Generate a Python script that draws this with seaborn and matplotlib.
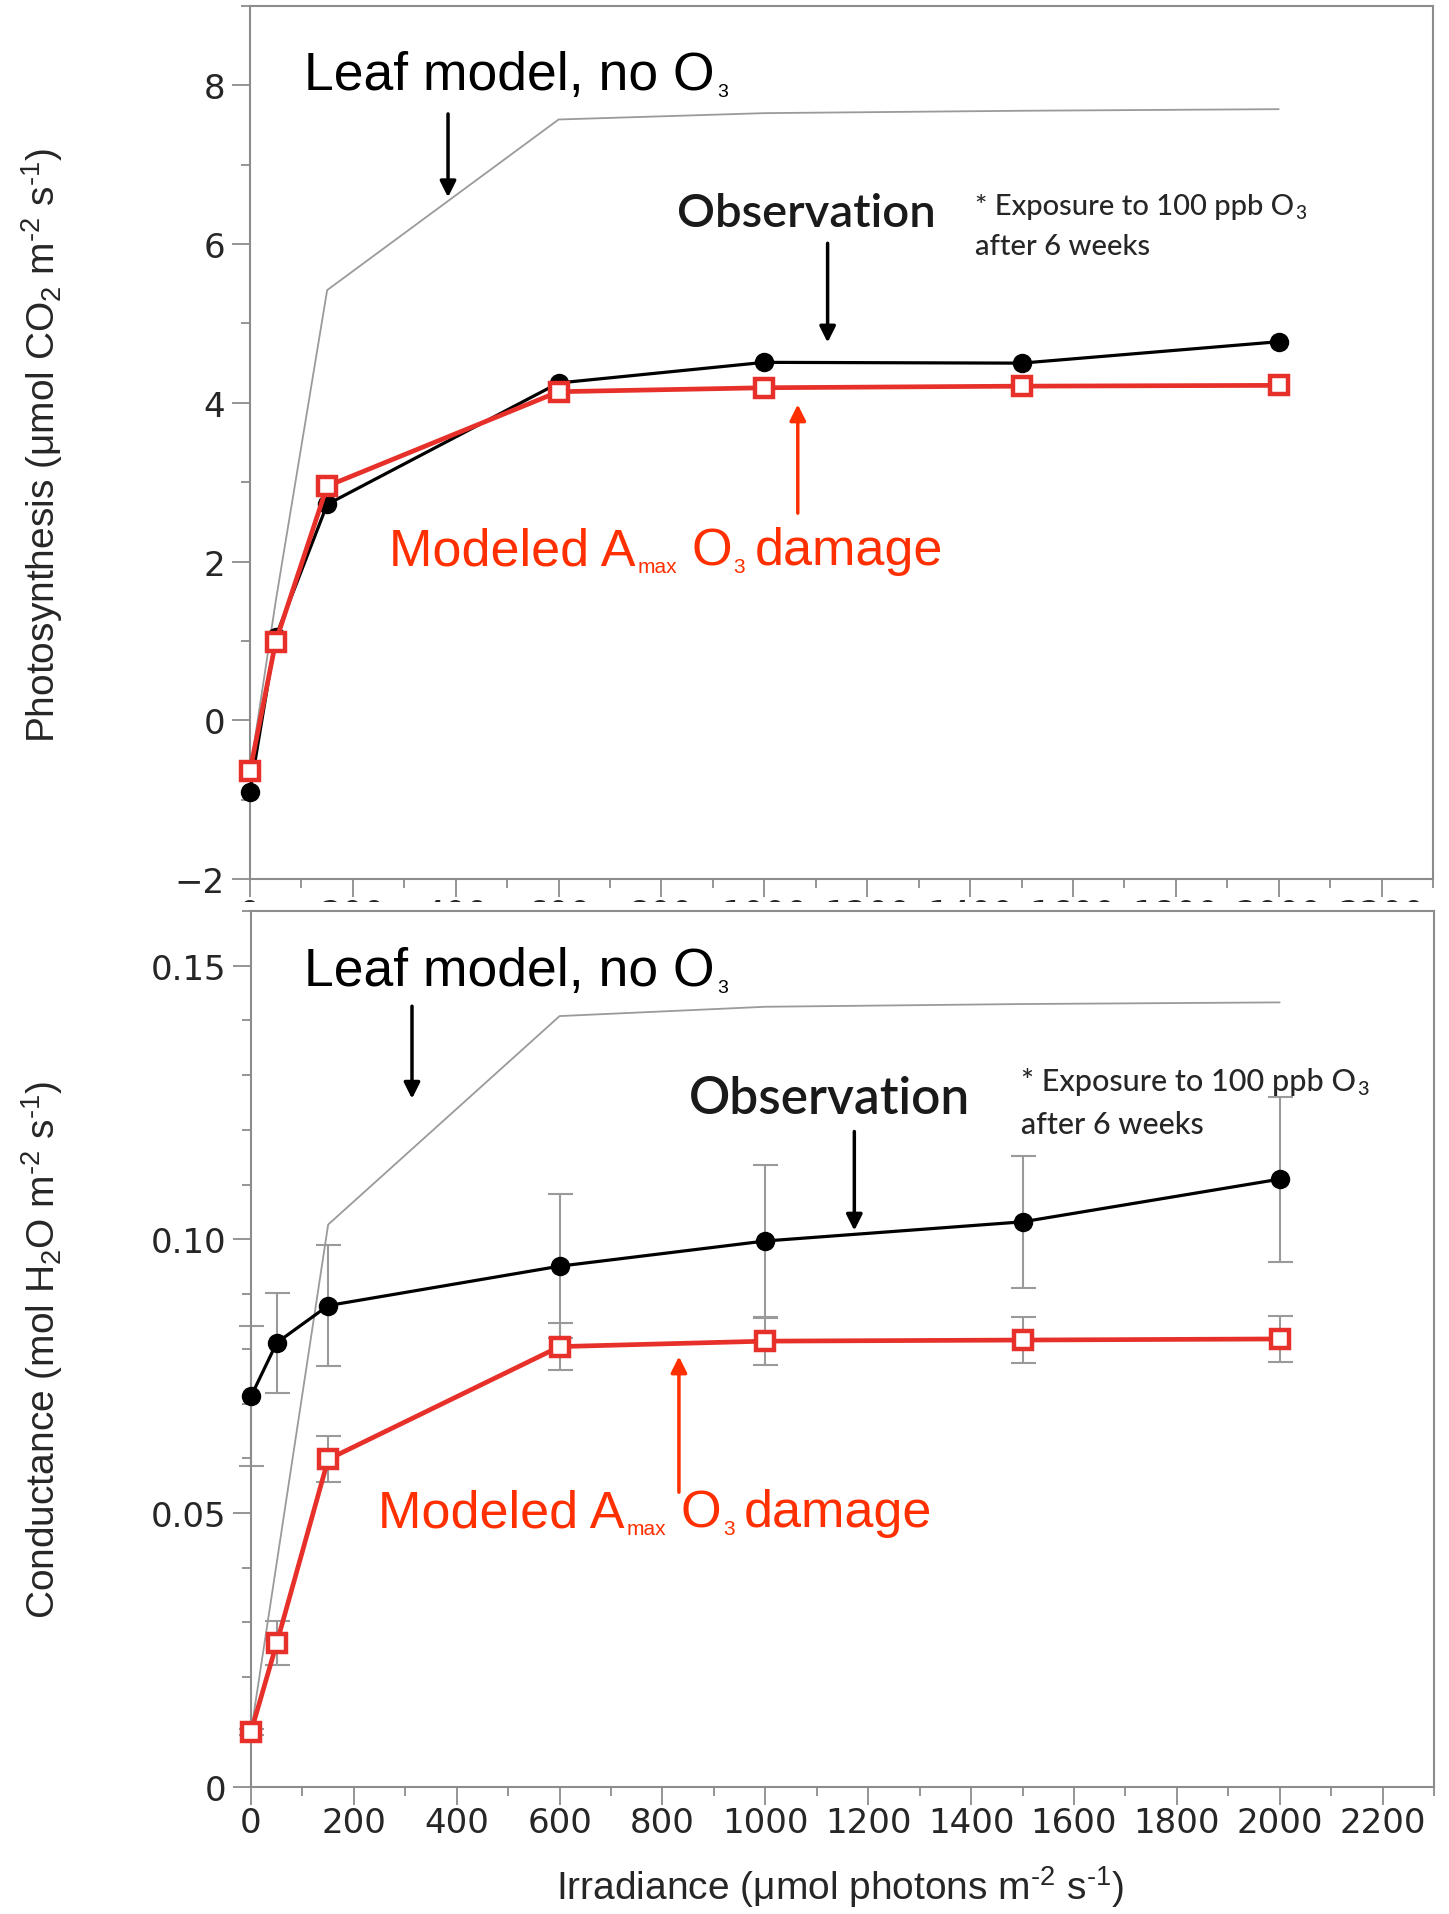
import matplotlib
matplotlib.use("Agg")
import matplotlib.pyplot as plt
import seaborn as sns
from matplotlib.ticker import MultipleLocator, FuncFormatter
from matplotlib.patches import Rectangle

# ---------------- data ----------------
irradiance = [0, 50, 150, 600, 1000, 1500, 2000]

# net photosynthesis (umol CO2 m-2 s-1)
photo_obs = [-0.90, 1.05, 2.72, 4.25, 4.51, 4.50, 4.77]
photo_mod = [-0.64, 0.99, 2.95, 4.14, 4.19, 4.21, 4.22]
photo_leaf_x = [0, 50, 150, 600, 1000, 1500, 2000]
photo_leaf = [-0.64, 1.50, 5.42, 7.57, 7.65, 7.68, 7.70]

# stomatal conductance (mol H2O m-2 s-1)
cond_obs = [0.0713, 0.0811, 0.0879, 0.0951, 0.0997, 0.1032, 0.1110]
cond_obs_err = [0.0128, 0.0091, 0.0110, 0.0131, 0.0138, 0.0121, 0.0151]
cond_mod = [0.0100, 0.0262, 0.0598, 0.0804, 0.0814, 0.0816, 0.0818]
cond_mod_err = [0.0005, 0.0040, 0.0042, 0.0043, 0.0043, 0.0042, 0.0042]
cond_leaf_x = [0, 150, 600, 1000, 1500, 2000]
cond_leaf = [0.0100, 0.1027, 0.1408, 0.1425, 0.1430, 0.1433]

# ---------------- style ----------------
sns.set_style("white")
plt.rcParams["font.family"] = ["DejaVu Sans"]
plt.rcParams["mathtext.fontset"] = "custom"
plt.rcParams["mathtext.rm"] = "Liberation Sans"
plt.rcParams["mathtext.it"] = "Liberation Sans:italic"
plt.rcParams["mathtext.bf"] = "Liberation Sans:bold"

RED_LINE = "#e8302a"
RED_TEXT = "#ff2f00"
GREY = "#9a9a9a"
FRAME = "#8c8c8c"
HELV = "Liberation Sans"
CALI = "Lato"

W, H = 1449, 1915
fig = plt.figure(figsize=(W / 100, H / 100), dpi=100)
fig.patch.set_facecolor("white")

ax1 = fig.add_axes([250 / W, 1 - 880 / H, 1183 / W, 873 / H])
ax2 = fig.add_axes([251 / W, 1 - 1787.6 / H, 1183 / W, (1787.6 - 912) / H])
ax2.set_zorder(3)
ax2.patch.set_facecolor("white")

for ax in (ax1, ax2):
    for s in ax.spines.values():
        s.set_visible(True)
        s.set_color(FRAME)
        s.set_linewidth(1.5)
    ax.set_xlim(0, 2300)
    ax.xaxis.set_major_locator(MultipleLocator(200))
    ax.xaxis.set_minor_locator(MultipleLocator(100))
    ax.tick_params(which="major", direction="out", length=13, width=1.3,
                   color=FRAME, labelsize=24.5, top=False, right=False,
                   bottom=True, left=True)
    ax.tick_params(which="minor", direction="out", length=6.5, width=1.3,
                   color=FRAME, top=False, right=False, bottom=True, left=True)
    ax.tick_params(axis="x", pad=1)
    ax.tick_params(axis="y", pad=5)
    ax.set_xlabel("")
    ax.set_ylabel("")

ax1.set_ylim(-2, 9)
ax1.yaxis.set_major_locator(MultipleLocator(2))
ax1.yaxis.set_minor_locator(MultipleLocator(1))

ax2.set_ylim(0, 0.16)
ax2.yaxis.set_major_locator(MultipleLocator(0.05))
ax2.yaxis.set_minor_locator(MultipleLocator(0.01))
ax2.yaxis.set_major_formatter(FuncFormatter(lambda v, p: "0" if abs(v) < 1e-9 else f"{v:.2f}"))

# white strip that hides most of the upper panel's x tick labels
fig.add_artist(Rectangle((0, 1 - 935 / H), 1, 32 / H, transform=fig.transFigure,
                         facecolor="white", edgecolor="none", zorder=2))

# ---------------- upper panel: photosynthesis ----------------
sns.lineplot(x=photo_leaf_x, y=photo_leaf, ax=ax1, color=GREY, lw=1.3,
             sort=False, zorder=2)
sns.lineplot(x=irradiance, y=photo_obs, ax=ax1, color="black", lw=2.3,
             marker="o", markersize=14, markeredgecolor="black",
             markeredgewidth=0, sort=False, clip_on=False, zorder=3)
sns.lineplot(x=irradiance, y=photo_mod, ax=ax1, color=RED_LINE, lw=3.4,
             marker="s", markersize=12.5, markerfacecolor="white",
             markeredgecolor=RED_LINE, markeredgewidth=3.2, sort=False,
             clip_on=False, zorder=4)

# ---------------- lower panel: conductance ----------------
sns.lineplot(x=cond_leaf_x, y=cond_leaf, ax=ax2, color=GREY, lw=1.3,
             sort=False, zorder=2)
ax2.errorbar(irradiance, cond_obs, yerr=cond_obs_err, fmt="none", ecolor=GREY,
             elinewidth=1.5, capsize=9, capthick=1.5, zorder=2.5, clip_on=False)
ax2.errorbar(irradiance, cond_mod, yerr=cond_mod_err, fmt="none", ecolor=GREY,
             elinewidth=1.5, capsize=9, capthick=1.5, zorder=2.5, clip_on=False)
sns.lineplot(x=irradiance, y=cond_obs, ax=ax2, color="black", lw=2.3,
             marker="o", markersize=14, markeredgecolor="black",
             markeredgewidth=0, sort=False, clip_on=False, zorder=3)
sns.lineplot(x=irradiance, y=cond_mod, ax=ax2, color=RED_LINE, lw=3.4,
             marker="s", markersize=12.5, markerfacecolor="white",
             markeredgecolor=RED_LINE, markeredgewidth=3.2, sort=False,
             clip_on=False, zorder=4)

for ax in (ax1, ax2):
    leg = ax.get_legend()
    if leg is not None:
        leg.remove()

# ---------------- axis titles ----------------
HY = "\u2010"  # short hyphen for the unit exponents
fig.text(42 / W, 1 - 445 / H,
         rf"Photosynthesis (μmol CO$_2$ m$^{{{HY}2}}$ s$^{{{HY}1}}$)",
         rotation=90, ha="center", va="center", size=28, family=HELV)
fig.text(42 / W, 1 - 1350 / H,
         rf"Conductance (mol H$_2$O m$^{{{HY}2}}$ s$^{{{HY}1}}$)",
         rotation=90, ha="center", va="center", size=28, family=HELV)
fig.text(840 / W, 1 - 1900 / H,
         rf"Irradiance (μmol photons m$^{{{HY}2}}$ s$^{{{HY}1}}$)",
         ha="center", va="baseline", size=28, family=HELV)

# ---------------- annotations ----------------
renderer = fig.canvas.get_renderer()


def chain(x0, baseline, parts, color, family, weight="normal"):
    """Write text pieces one after another on a common baseline (pixels)."""
    x = x0
    for text, size, gap, drop in parts:
        x += gap
        t = fig.text(x / W, 1 - (baseline + drop) / H, text, size=size,
                     color=color, family=family, weight=weight,
                     ha="left", va="baseline", zorder=6)
        x = t.get_window_extent(renderer).x1


def arrow(ax, x, y_tail, y_tip, color):
    ax.annotate("", xy=(x, y_tip), xytext=(x, y_tail),
                arrowprops=dict(arrowstyle="-|>", color=color, lw=2.5,
                                mutation_scale=24, shrinkA=0, shrinkB=0),
                zorder=6)


def panel_notes(leaf_base, obs_x, obs_base, obs_size, exp_x, exp_base,
                exp_size, exp_gap, mod_x, mod_base):
    chain(304, leaf_base, [("Leaf model, no O", 38.5, 0, 0),
                           ("3", 14, 3, 7)], "black", HELV)
    chain(obs_x, obs_base, [("Observation", obs_size, 0, 0)], "#1a1a1a",
          CALI, weight="semibold")
    chain(exp_x, exp_base, [("* Exposure to 100 ppb O", exp_size, 0, 0),
                            ("3", exp_size * 0.65, 1, 4)], "#262626", CALI,
          weight="medium")
    chain(exp_x, exp_base + exp_gap, [("after 6 weeks", exp_size, 0, 0)],
          "#262626", CALI, weight="medium")
    chain(mod_x, mod_base, [("Modeled A", 37.5, 0, 0),
                            ("max", 15, 2, 8),
                            ("O", 37.5, 14, 0),
                            ("3", 15, 2, 8),
                            ("damage", 37.5, 9, 0)], RED_TEXT, HELV)


panel_notes(90, 677, 227, 34, 975, 215, 21, 40, 389, 565)
panel_notes(986, 689, 1114, 37, 1021, 1091, 22, 43, 378, 1527)

arrow(ax1, 385, 7.64, 6.59, "black")
arrow(ax1, 1123, 6.01, 4.76, "black")
arrow(ax1, 1065, 2.61, 3.98, RED_TEXT)
arrow(ax2, 313, 0.1426, 0.1257, "black")
arrow(ax2, 1173, 0.1197, 0.1016, "black")
arrow(ax2, 832, 0.0538, 0.0786, RED_TEXT)

fig.savefig("out.png", dpi=100, facecolor="white")
